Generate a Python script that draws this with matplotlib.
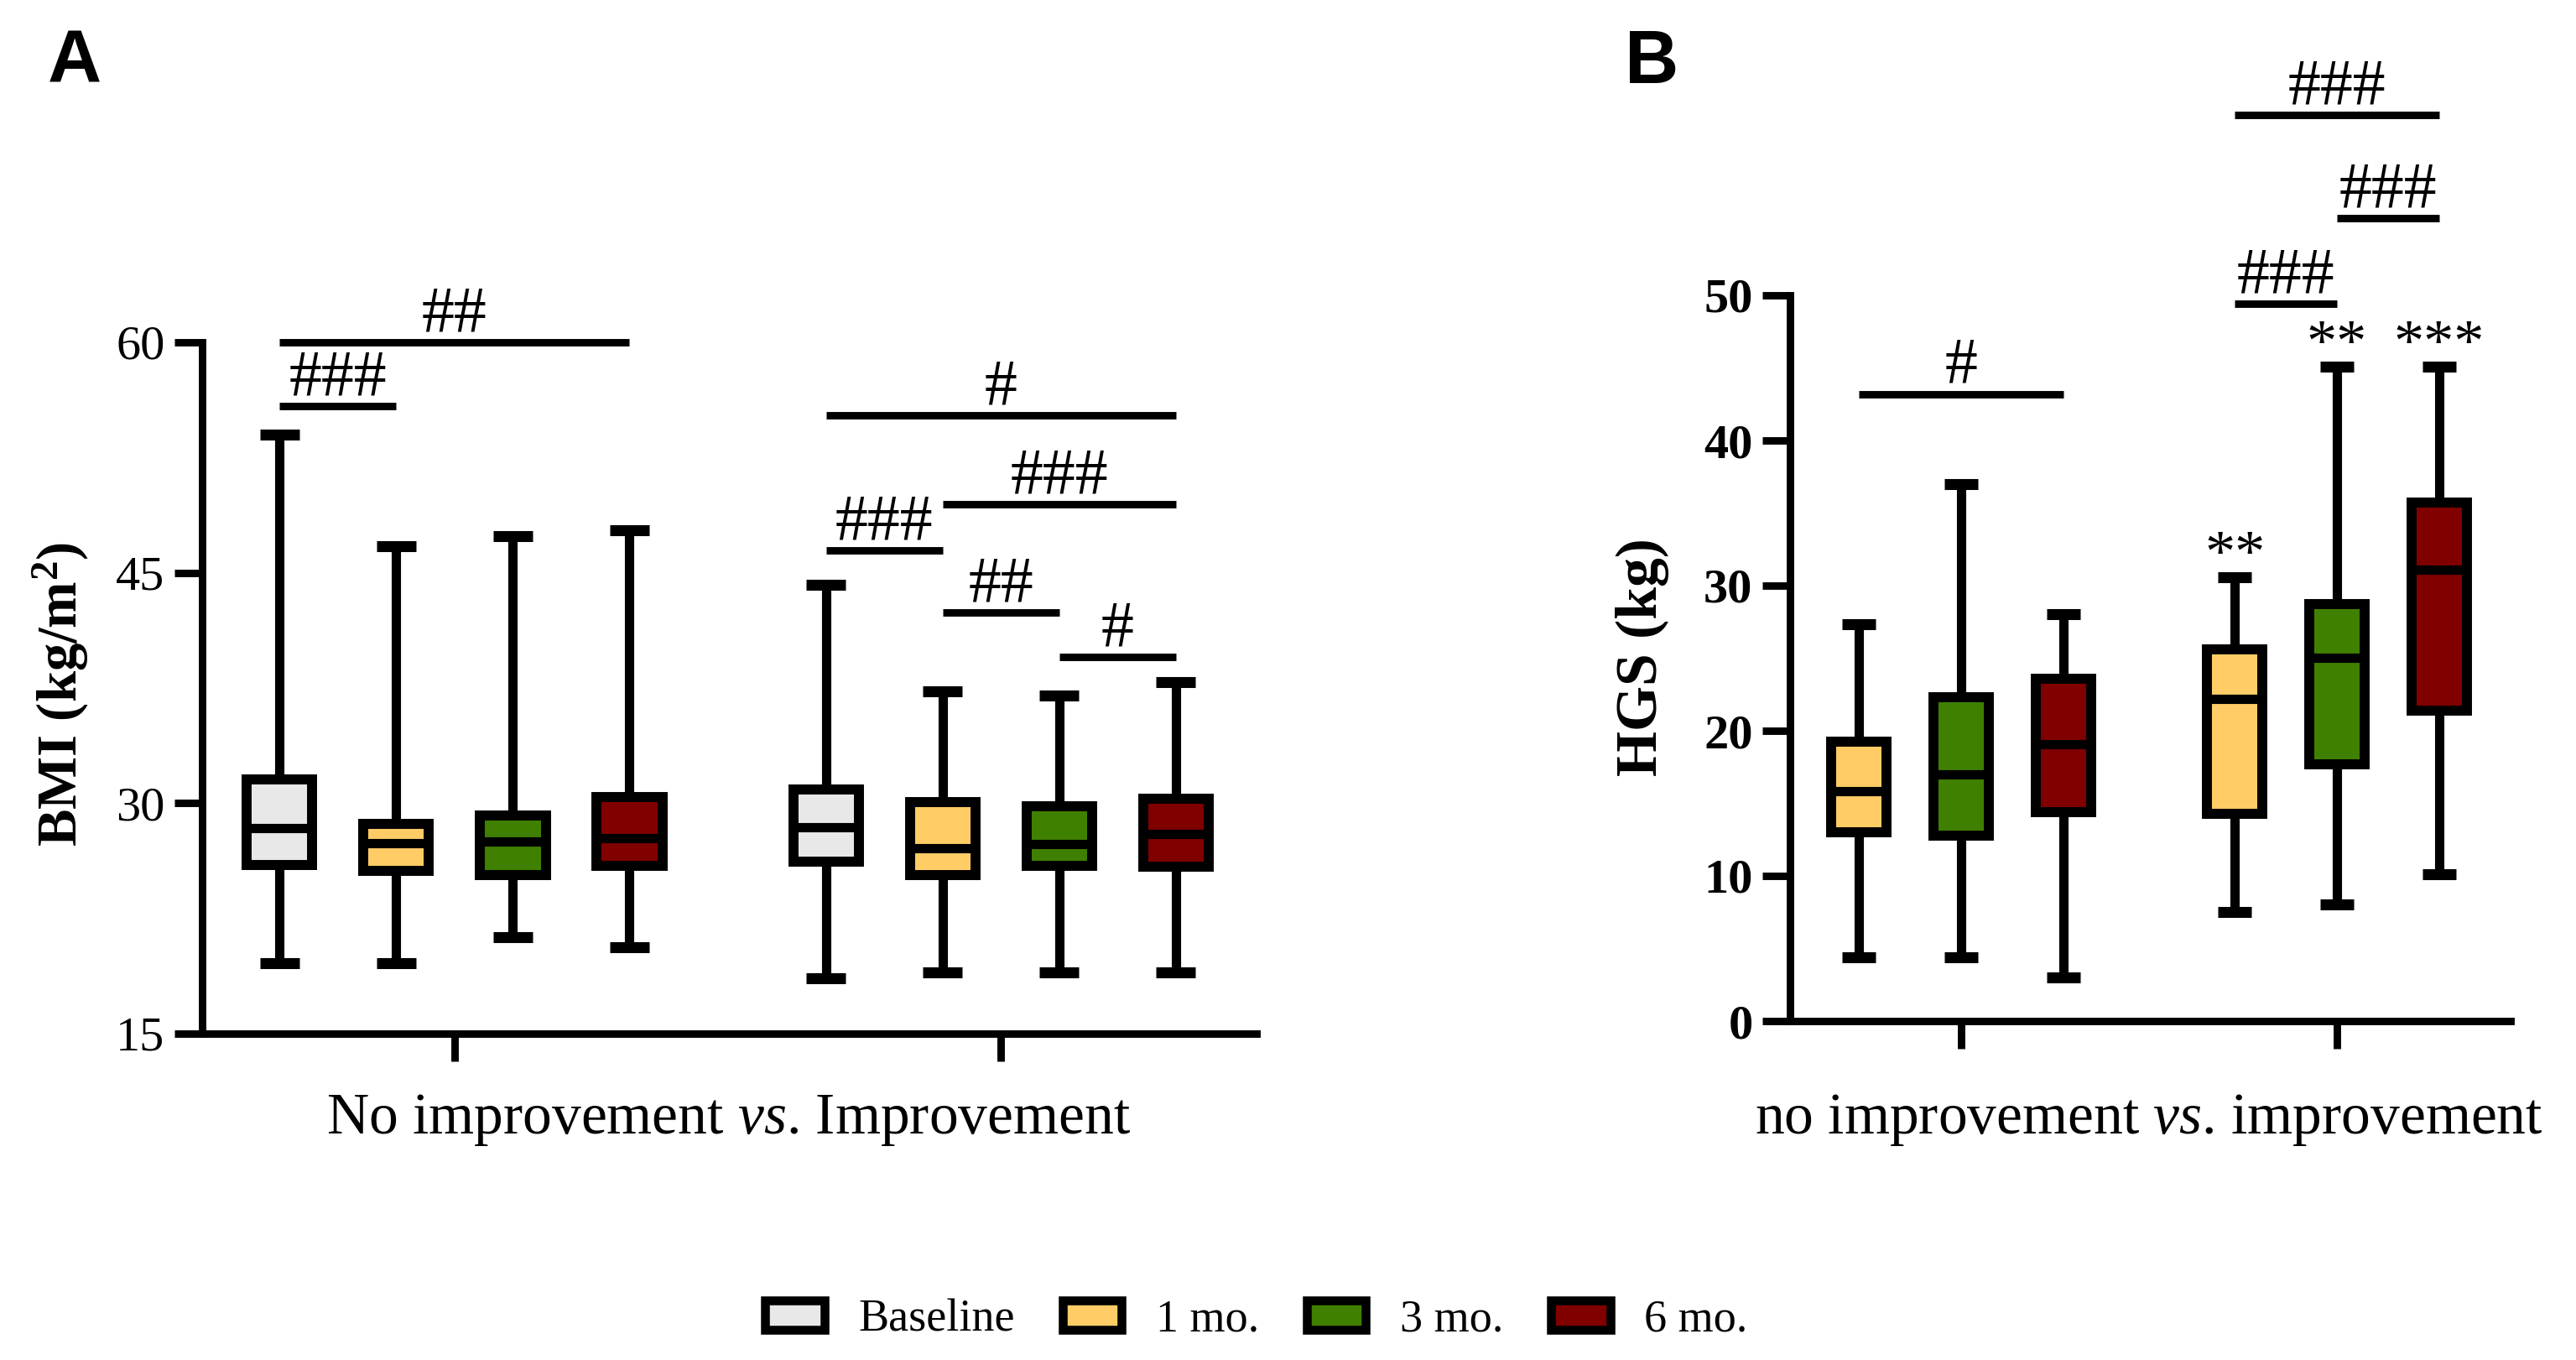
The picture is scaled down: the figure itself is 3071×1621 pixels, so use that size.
import matplotlib
matplotlib.use("Agg")
import matplotlib.pyplot as plt
from matplotlib.patches import Patch

plt.rcParams["font.family"] = "Liberation Serif"
plt.rcParams["mathtext.fontset"] = "custom"
plt.rcParams["mathtext.rm"] = "Liberation Serif"
plt.rcParams["mathtext.it"] = "Liberation Serif:italic"
plt.rcParams["mathtext.bf"] = "Liberation Serif:bold"

# ---- data ----
timepoints = ["Baseline", "1 mo.", "3 mo.", "6 mo."]
colors = ["#E8E8E8", "#FFCC66", "#408000", "#800000"]

# panel A: BMI, groups = no improvement / improvement, boxes = baseline..6 mo
bmi_lo = [[19.6, 19.6, 21.3, 20.65], [18.6, 19.0, 19.0, 19.0]]
bmi_q1 = [[25.95, 25.6, 25.3, 25.9], [26.2, 25.3, 25.9, 25.85]]
bmi_med = [[28.4, 27.4, 27.5, 27.7], [28.45, 27.05, 27.35, 28.0]]
bmi_q3 = [[31.55, 28.65, 29.2, 30.4], [30.9, 30.1, 29.8, 30.3]]
bmi_hi = [[54.0, 46.75, 47.4, 47.75], [44.2, 37.3, 37.0, 37.9]]

# panel B: HGS, boxes = 1, 3, 6 mo
hgs_lo = [[4.4, 4.4, 3.0], [7.5, 8.05, 10.1]]
hgs_q1 = [[13.0, 12.75, 14.4], [14.3, 17.7, 21.4]]
hgs_med = [[15.85, 17.0, 19.1], [22.2, 25.05, 31.1]]
hgs_q3 = [[19.25, 22.3, 23.6], [25.6, 28.7, 35.7]]
hgs_hi = [[27.35, 37.0, 28.05], [30.6, 45.1, 45.1]]

# significance bars: (group, box i, box j, y, label)
bmi_sig = [(0, 0, 3, 60.0, "##"), (0, 0, 1, 55.85, "###"),
           (1, 0, 3, 55.25, "#"), (1, 1, 3, 49.45, "###"),
           (1, 0, 1, 46.45, "###"), (1, 1, 2, 42.4, "##"),
           (1, 2, 3, 39.5, "#")]
hgs_sig = [(0, 0, 2, 43.2, "#"), (1, 0, 2, 62.4, "###"),
           (1, 1, 2, 55.3, "###"), (1, 0, 1, 49.4, "###")]
hgs_stars = [(1, 0, "**"), (1, 1, "**"), (1, 2, "***")]


def draw_boxes(ax, lo, q1, med, q3, hi, cols, step, width):
    n = len(lo[0])
    positions = []
    for g in range(len(lo)):
        pos = [g + (i - (n - 1) / 2) * step for i in range(n)]
        stats = [dict(whislo=lo[g][i], q1=q1[g][i], med=med[g][i],
                      q3=q3[g][i], whishi=hi[g][i]) for i in range(n)]
        bp = ax.bxp(stats, positions=pos, widths=width, capwidths=width * 0.6,
                    patch_artist=True, showfliers=False, manage_ticks=False,
                    boxprops=dict(linewidth=4.3, edgecolor="black", joinstyle="miter"),
                    whiskerprops=dict(linewidth=4, color="black", solid_capstyle="butt"),
                    capprops=dict(linewidth=4.7, color="black", solid_capstyle="butt"),
                    medianprops=dict(linewidth=4, color="black", solid_capstyle="butt"))
        for patch, c in zip(bp["boxes"], cols):
            patch.set_facecolor(c)
        positions.append(pos)
    return positions


def sig(ax, pos, g, i, j, y, label):
    x0, x1 = pos[g][i], pos[g][j]
    ax.plot([x0, x1], [y, y], color="black", lw=3.2, solid_capstyle="butt", clip_on=False)
    ax.annotate(label, xy=((x0 + x1) / 2, y), xytext=(0, 5), textcoords="offset points",
                ha="center", va="baseline", fontsize=28, annotation_clip=False)


W, H = 3071, 1621
fig = plt.figure(figsize=(W / 200, H / 200), dpi=200)

axA = fig.add_axes([241 / W, 1 - 1232 / H, (1498 - 241) / W, (1232 - 408) / H])
axB = fig.add_axes([2134 / W, 1 - 1217 / H, (2993 - 2134) / W, (1217 - 352) / H])

posA = draw_boxes(axA, bmi_lo, bmi_q1, bmi_med, bmi_q3, bmi_hi, colors, 0.2135, 0.12)
posB = draw_boxes(axB, hgs_lo, hgs_q1, hgs_med, hgs_q3, hgs_hi, colors[1:], 0.272, 0.147)

for s in bmi_sig:
    sig(axA, posA, *s)
for s in hgs_sig:
    sig(axB, posB, *s)
for g, i, label in hgs_stars:
    axB.annotate(label, xy=(posB[g][i], hgs_hi[g][i]), xytext=(0, 2.5),
                 textcoords="offset points", ha="center", va="baseline",
                 fontsize=26, annotation_clip=False)

axA.set_xlim(-0.462, 1.468)
axA.set_ylim(15, 60)
axA.set_yticks([15, 30, 45, 60])
axB.set_xlim(-0.455, 1.462)
axB.set_ylim(0, 50)
axB.set_yticks([0, 10, 20, 30, 40, 50])

for ax in (axA, axB):
    ax.spines[["top", "right"]].set_visible(False)
    ax.spines[["left", "bottom"]].set_linewidth(3.2)
    ax.tick_params(width=3.2, length=12, labelsize=21, pad=4)
    ax.set_xticks([0, 1])
    ax.set_xticklabels([])
for lab in axB.get_yticklabels():
    lab.set_fontweight("bold")

fig.text(868 / W, 1 - 1335 / H, r"No improvement $\mathit{vs}$. Improvement",
         fontsize=25, ha="center", va="center")
fig.text(2562 / W, 1 - 1335 / H, r"no improvement $\mathit{vs}$. improvement",
         fontsize=25, ha="center", va="center")
fig.text(72 / W, 1 - 827 / H, r"BMI (kg/m$^\mathbf{2}$)", fontsize=24,
         fontweight="bold", rotation=90, ha="center", va="center")
fig.text(1958 / W, 1 - 783 / H, "HGS (kg)", fontsize=25,
         fontweight="bold", rotation=90, ha="center", va="center")
fig.text(57 / W, 1 - 99 / H, "A", fontsize=32, fontweight="bold",
         family="Liberation Sans", ha="left", va="baseline")
fig.text(1937 / W, 1 - 99 / H, "B", fontsize=32, fontweight="bold",
         family="Liberation Sans", ha="left", va="baseline")

handles = [Patch(facecolor=c, edgecolor="black", linewidth=3.8) for c in colors]
fig.legend(handles, timepoints, loc="center", bbox_to_anchor=(1498 / W, 1 - 1573 / H),
           ncol=4, frameon=False, fontsize=19.5, handlelength=1.3, handleheight=0.62,
           handletextpad=0.75, columnspacing=1.05)

fig.savefig("out.png", dpi=200)
